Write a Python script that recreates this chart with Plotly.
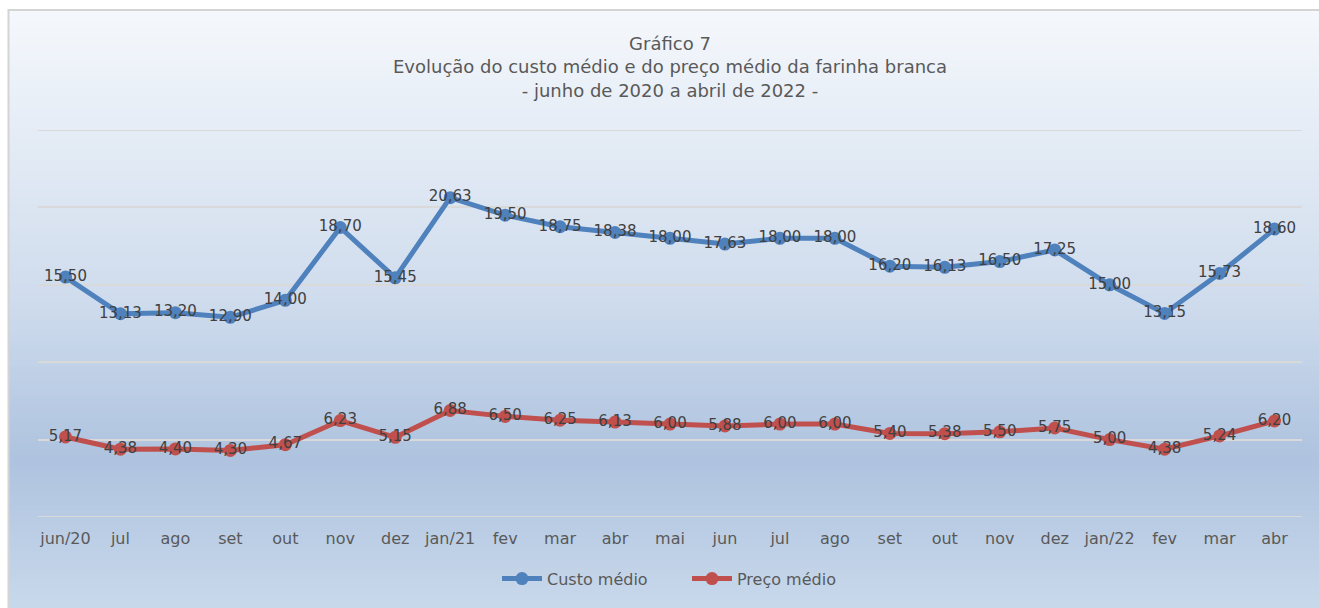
import plotly.graph_objects as go

months = ["jun/20", "jul", "ago", "set", "out", "nov", "dez", "jan/21", "fev", "mar", "abr",
          "mai", "jun", "jul", "ago", "set", "out", "nov", "dez", "jan/22", "fev", "mar", "abr"]
custo_medio = [15.50, 13.13, 13.20, 12.90, 14.00, 18.70, 15.45, 20.63, 19.50, 18.75, 18.38,
               18.00, 17.63, 18.00, 18.00, 16.20, 16.13, 16.50, 17.25, 15.00, 13.15, 15.73, 18.60]
preco_medio = [5.17, 4.38, 4.40, 4.30, 4.67, 6.23, 5.15, 6.88, 6.50, 6.25, 6.13,
               6.00, 5.88, 6.00, 6.00, 5.40, 5.38, 5.50, 5.75, 5.00, 4.38, 5.24, 6.20]

W, H = 1319, 608
ML, MR, MT, MB = 38, 17, 130, 89
PW, PH = W - ML - MR, H - MT - MB

xs = list(range(len(months)))
FONT = "DejaVu Sans"
LABEL = "#404040"
TXT = "#595959"
GRID = "#d9d9d9"

fig = go.Figure()
fig.add_trace(go.Scatter(
    x=xs, y=custo_medio, name="Custo médio", mode="lines+markers+text",
    line=dict(color="#4f81bd", width=5), marker=dict(color="#4f81bd", size=13),
    texttemplate="%{y:.2f}", textposition="middle center",
    textfont=dict(family=FONT, size=15, color=LABEL), cliponaxis=False))
fig.add_trace(go.Scatter(
    x=xs, y=preco_medio, name="Preço médio", mode="lines+markers+text",
    line=dict(color="#c0504d", width=5), marker=dict(color="#c0504d", size=13),
    texttemplate="%{y:.2f}", textposition="middle center",
    textfont=dict(family=FONT, size=15, color=LABEL), cliponaxis=False))

# gradient background via stacked rectangles
def px2py(py):
    return (H - MB - py) / PH

def px2px(px):
    return (px - ML) / PW

stops = [(9, (0xf5, 0xf8, 0xfc)), (300, (0xcf, 0xdc, 0xed)), (460, (0xae, 0xc3, 0xdf)), (608, (0xc8, 0xd8, 0xeb))]

def col_at(py):
    for (a, ca), (b, cb) in zip(stops[:-1], stops[1:]):
        if a <= py <= b:
            t = (py - a) / (b - a)
            c = [round(ca[i] + (cb[i] - ca[i]) * t) for i in range(3)]
            return "rgb(%d,%d,%d)" % tuple(c)
    return "rgb(%d,%d,%d)" % stops[-1][1]

shapes = []
step = 3
py = 9
while py < H:
    shapes.append(dict(type="rect", xref="paper", yref="paper", layer="below",
                       x0=px2px(8), x1=px2px(W + 5), y0=px2py(py + step + 3), y1=px2py(py),
                       fillcolor=col_at(py + step / 2), line=dict(width=0)))
    py += step
# border
shapes.append(dict(type="rect", xref="paper", yref="paper", layer="below",
                   x0=px2px(8.5), x1=px2px(W + 5), y0=px2py(H + 5), y1=px2py(9.5),
                   fillcolor="rgba(0,0,0,0)", line=dict(color="#d4d4d4", width=2)))
# edge gridlines (0 and 25)
for yv in (0, 25):
    shapes.append(dict(type="line", xref="paper", yref="y", layer="below",
                       x0=0, x1=1, y0=yv, y1=yv, line=dict(color=GRID, width=2)))

fig.update_layout(
    width=W, height=H,
    margin=dict(l=ML, r=MR, t=MT, b=MB),
    paper_bgcolor="white", plot_bgcolor="rgba(0,0,0,0)",
    separators=",.",
    font=dict(family=FONT, size=15, color=TXT),
    title=dict(text="Gráfico 7<br>Evolução do custo médio e do preço médio da farinha branca<br>- junho de 2020 a abril de 2022 -",
               x=0.5, xref="paper", xanchor="center", y=1 - 50 / H, yanchor="middle",
               font=dict(family=FONT, size=18, color=TXT)),
    xaxis=dict(tickmode="array", tickvals=xs, ticktext=months, range=[-0.5, len(months) - 0.5],
               showgrid=False, zeroline=False, showline=False, ticks="", ticklabelstandoff=10,
               tickfont=dict(family=FONT, size=16, color=TXT)),
    yaxis=dict(range=[0, 25], tickvals=[0, 5, 10, 15, 20, 25], showticklabels=False, showgrid=True,
               gridcolor=GRID, gridwidth=2, zeroline=False, showline=False),
    legend=dict(orientation="h", x=px2px(497), xanchor="left", y=px2py(581), yanchor="middle",
                font=dict(family=FONT, size=16, color=TXT), bgcolor="rgba(0,0,0,0)",
                itemwidth=40, entrywidth=135, entrywidthmode="pixels"),
    showlegend=True,
    shapes=shapes,
)

fig.write_html("out.html", config={"displayModeBar": False},
               post_script="document.body.style.margin='0';")
